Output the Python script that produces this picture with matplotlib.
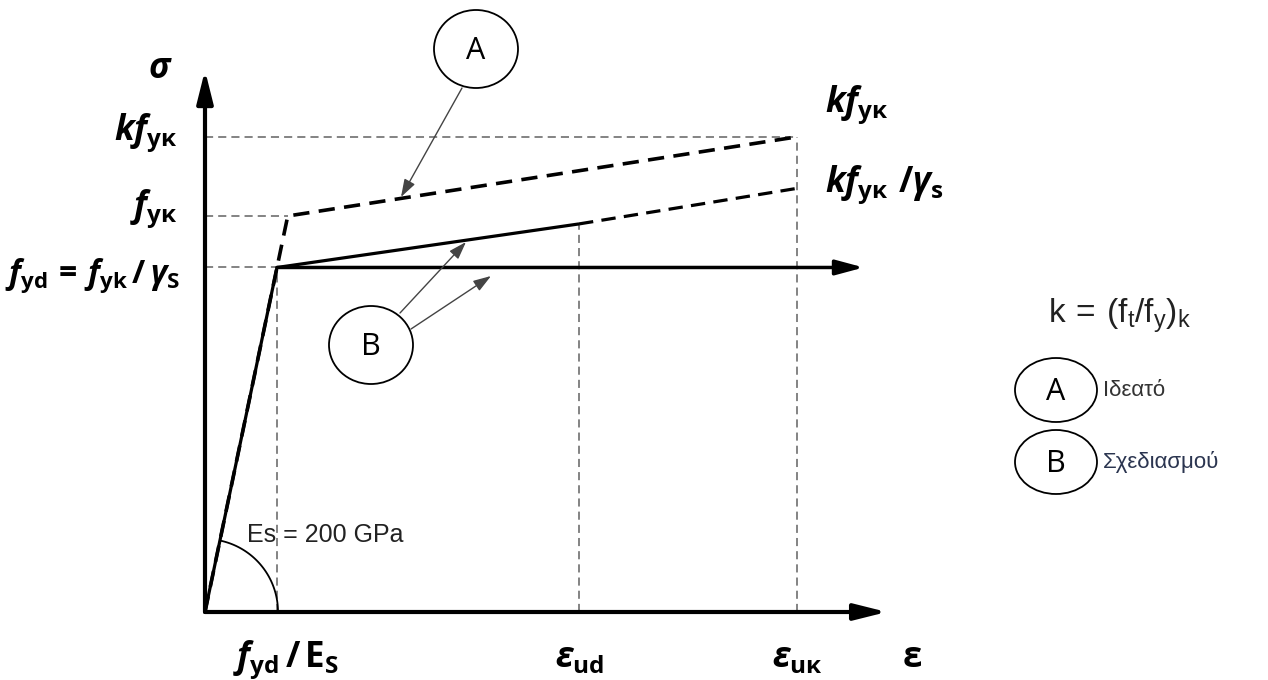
import numpy as np
import matplotlib
matplotlib.use("Agg")
import matplotlib.pyplot as plt
from matplotlib.patches import Ellipse

plt.rcParams['mathtext.fontset'] = 'custom'
plt.rcParams['mathtext.it'] = 'Open Sans:bold:italic'
plt.rcParams['mathtext.rm'] = 'Open Sans:bold'
plt.rcParams['mathtext.bf'] = 'Open Sans:bold'
plt.rcParams['mathtext.sf'] = 'Liberation Sans'

# schematic steel diagram (stress in MPa, strain in per mille)
Es = 200.0
fyd = 435.0
fyk = 500.0
kfyk = 600.0
sig_ud = 490.0
kfyk_gs = 535.0
eps_yd = fyd / Es
eps_yk = fyk / Es
eps_ud = 11.3
eps_uk = 17.9
eps_plateau = 19.9
axis_eps = 20.6
axis_sig = 684.0

ideal_eps = [0, eps_yk, eps_uk]
ideal_sig = [0, fyk, kfyk]
design_eps = [0, eps_yd, eps_ud]
design_sig = [0, fyd, sig_ud]
ext_eps = [eps_ud, eps_uk]
ext_sig = [sig_ud, kfyk_gs]

W, H = 1268, 680
sx, sy = 33.1, 0.792      # pixels per unit
ox, oy = 205, 612         # origin in pixels

fig = plt.figure(figsize=(W / 100, H / 100), dpi=100)
ax = fig.add_axes([0, 0, 1, 1])
ax.set_xlim(-ox / sx, (W - ox) / sx)
ax.set_ylim(-(H - oy) / sy, oy / sy)
ax.axis('off')

ov = fig.add_axes([0, 0, 1, 1], zorder=5)
ov.set_xlim(0, W)
ov.set_ylim(H, 0)
ov.axis('off')

grey = '#7a7a7a'
gd = dict(color=grey, lw=1.3, ls=(0, (4.5, 2.8)))
# reference lines
ax.plot([0, eps_uk], [kfyk, kfyk], **gd)
ax.plot([0, eps_yk], [fyk, fyk], **gd)
ax.plot([0, eps_yd], [fyd, fyd], **gd)
ax.plot([eps_yd, eps_yd], [0, fyd], **gd)
ax.plot([eps_ud, eps_ud], [0, sig_ud], **gd)
ax.plot([eps_uk, eps_uk], [0, kfyk], **gd)

# ideal curve (A)
ax.plot(ideal_eps, ideal_sig, color='k', lw=2.6, ls=(0, (4.5, 2.6)))
# design curves (B)
ax.plot(design_eps, design_sig, color='k', lw=2.3, solid_capstyle='butt')
ax.plot(ext_eps, ext_sig, color='k', lw=2.3, ls=(0, (4.5, 2.6)))
ax.annotate('', xy=(eps_plateau, fyd), xytext=(eps_yd, fyd),
            arrowprops=dict(arrowstyle='-|>,head_length=1.3,head_width=0.35',
                            lw=2.5, color='k', mutation_scale=13,
                            shrinkA=0, shrinkB=0))

# axes arrows
for end in [(axis_eps, 0), (0, axis_sig)]:
    ax.annotate('', xy=end, xytext=(0, 0),
                arrowprops=dict(arrowstyle='-|>,head_length=1.4,head_width=0.35',
                                lw=3, color='k', mutation_scale=14,
                                shrinkA=0, shrinkB=0))

# modulus arc
r = 73
ang = np.arctan2(fyd * sy, eps_yd * sx)
t = np.linspace(0, ang, 60)
ax.plot(r / sx * np.cos(t), r / sy * np.sin(t), color='k', lw=1.3)
ov.text(247, 542, 'Es = 200 GPa', family='Liberation Sans', fontsize=18,
        color='#222222', va='baseline')

# labels
lab = dict(fontsize=25, va='baseline')
ov.text(148, 78, r'$σ$', ha='left', **lab)
ov.text(178, 140, r'$kf_{\mathrm{yκ}}$', ha='right', **lab)
ov.text(178, 216, r'$f_{\mathrm{yκ}}$', ha='right', **lab)
ov.text(180, 283, r'$f_{\mathrm{yd}}\,=\,f_{\mathrm{yk}}\,/\,γ_{\mathrm{S}}$',
        ha='right', fontsize=23, va='baseline')
ov.text(825, 112, r'$kf_{\mathrm{yκ}}$', ha='left', **lab)
ov.text(825, 192, r'$kf_{\mathrm{yκ}}\ \mathrm{/}γ_{\mathrm{s}}$', ha='left', **lab)
ov.text(233, 667, r'$f_{\mathrm{yd}}\,\mathrm{/\,E_S}$', ha='left', **lab)
ov.text(580, 667, r'$ε_{\mathrm{ud}}$', ha='center', **lab)
ov.text(797, 667, r'$ε_{\mathrm{uκ}}$', ha='center', **lab)
ov.text(902, 667, r'$\mathrm{ε}$', ha='left', **lab)

# callout circles
def bubble(cx, cy, letter, w=84, h=78):
    ov.add_patch(Ellipse((cx, cy), w, h, fill=False, ec='k', lw=1.3))
    ov.text(cx, cy + 2, letter, family='Open Sans', fontsize=22,
            ha='center', va='center')

arr = dict(arrowstyle='-|>,head_length=0.9,head_width=0.3', lw=1.0,
           color='#444444', mutation_scale=12, shrinkA=0, shrinkB=0)
bubble(476, 49, 'A')
ov.annotate('', xy=(401, 197), xytext=(462, 88), arrowprops=arr)
bubble(371, 345, 'B')
ov.annotate('', xy=(466, 242), xytext=(400, 313), arrowprops=arr)
ov.annotate('', xy=(491, 276), xytext=(411, 329), arrowprops=arr)

# legend
ov.text(1048, 323, r'$\mathsf{k\,=\,(f_{t}/f_{y})_{k}}$', fontsize=24,
        color='#222222', va='baseline')
bubble(1056, 390, 'A', w=82, h=64)
bubble(1056, 462, 'B', w=82, h=64)
ov.text(1103, 390, 'Ιδεατό', family='Liberation Sans', fontsize=16,
        color='#333333', va='center')
ov.text(1103, 462, 'Σχεδιασμού', family='Liberation Sans', fontsize=16,
        color='#2b3550', va='center')

fig.savefig('out.png', dpi=100)
